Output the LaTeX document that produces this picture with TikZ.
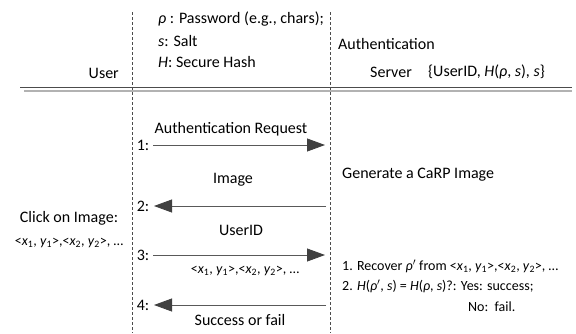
\documentclass[tikz,border=0pt]{standalone}
\usepackage{fontspec}
\setmainfont{Carlito}
\usetikzlibrary{arrows.meta}
\newcommand{\pr}{\ensuremath{'}}
\begin{document}
\begin{tikzpicture}[x=1pt,y=-1pt,
  txt/.style={inner sep=0pt,font=\fontsize{16}{18}\selectfont},
  sml/.style={inner sep=0pt,font=\fontsize{14}{16}\selectfont},
  life/.style={draw=black!70,densely dashed,line width=0.5pt},
  msg/.style={draw=black!65,line width=0.8pt,-{Triangle[length=18pt,width=13pt,color=black!75]}}]
\useasboundingbox (0,0) rectangle (576,333);
\coordinate (u0) at (132,12); \coordinate (u1) at (132,333);
\coordinate (s0) at (330,12); \coordinate (s1) at (330,333);
\draw[life] (u0) -- (u1);
\draw[life] (s0) -- (s1);
\coordinate (h0) at (20,87); \coordinate (h1) at (572,87);
\coordinate (g0) at (24,91); \coordinate (g1) at (572,91);
\draw[black!70,line width=0.9pt] (h0) -- (h1);
\draw[black!30,line width=1.2pt] (g0) -- (g1);
\node[txt,anchor=east] (user) at (119,73) {User};
\node[txt,anchor=west] (pw) at (158,19) {\textit{ρ} : Password (e.g., chars);};
\node[txt,anchor=west] (salt) at (158,41) {\textit{s}: Salt};
\node[txt,anchor=west] (hash) at (158,62) {\textit{H}: Secure Hash};
\node[txt,anchor=west] (auth) at (338,44) {Authentication};
\node[txt,anchor=west] (server) at (370,72) {Server};
\node[txt,anchor=west] (store) at (428,72) {\{UserID, \textit{H}(\textit{ρ}, \textit{s}), \textit{s}\}};
% messages
\coordinate (a1l) at (153,145); \coordinate (a1r) at (325,145);
\coordinate (a2l) at (154,206); \coordinate (a2r) at (326,206);
\coordinate (a3l) at (153,255); \coordinate (a3r) at (325,255);
\coordinate (a4l) at (154,305); \coordinate (a4r) at (326,305);
\draw[msg] (a1l) -- (a1r);
\draw[msg] (a2r) -- (a2l);
\draw[msg] (a3l) -- (a3r);
\draw[msg] (a4r) -- (a4l);
\node[txt] (n1) at (143,145) {1:};
\node[txt] (n2) at (143,206) {2:};
\node[txt] (n3) at (143,255) {3:};
\node[txt] (n4) at (143,305) {4:};
\node[txt] (l1) at (231,129) {Authentication Request};
\node[txt] (l2) at (233,180) {Image};
\node[txt] (l3) at (241,230) {UserID};
\node[sml] (l3b) at (245,271) {<\textit{x}\textsubscript{1}, \textit{y}\textsubscript{1}>,<\textit{x}\textsubscript{2}, \textit{y}\textsubscript{2}>, …};
\node[txt] (l4) at (240,320) {Success or fail};
\node[txt,anchor=west] (gen) at (342,175) {Generate a CaRP Image};
\node[txt] (click) at (69,218) {Click on Image:};
\node[sml] (clk2) at (69,243) {<\textit{x}\textsubscript{1}, \textit{y}\textsubscript{1}>,<\textit{x}\textsubscript{2}, \textit{y}\textsubscript{2}>, …};
\node[sml,anchor=west] (r1) at (342,266) {1. Recover \textit{ρ}\pr{} from <\textit{x}\textsubscript{1}, \textit{y}\textsubscript{1}>,<\textit{x}\textsubscript{2}, \textit{y}\textsubscript{2}>, …};
\node[sml,anchor=west] (r2) at (342,286) {2. \textit{H}(\textit{ρ}\pr, \textit{s}) = \textit{H}(\textit{ρ}, \textit{s})?: Yes: success;};
\node[sml,anchor=west] (r3) at (468,307) {No:\ \ fail.};
\end{tikzpicture}
\end{document}
